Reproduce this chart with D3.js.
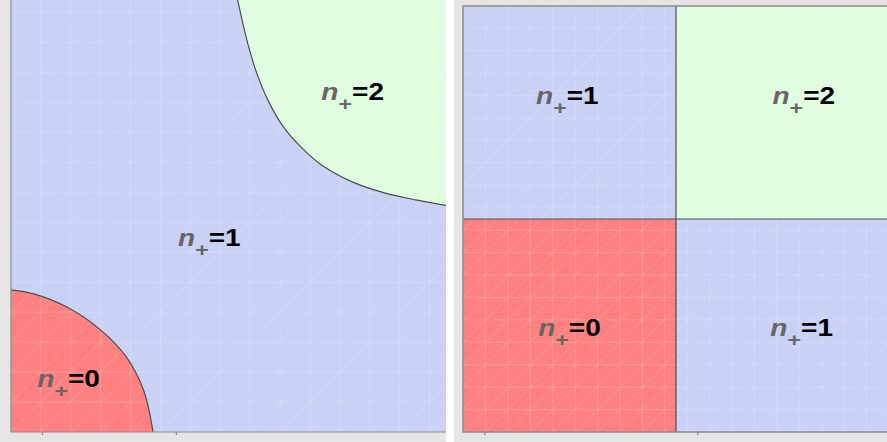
<!DOCTYPE html>
<html>
<head>
<meta charset="utf-8">
<script src="https://cdn.jsdelivr.net/npm/d3@7"></script>
<style>
  body { margin: 0; background: #fff; }
  svg { display: block; }
  .lbl { font-family: "Liberation Sans", Arial, sans-serif; font-weight: bold; font-size: 23px; }
</style>
</head>
<body>
<svg id="chart" width="887" height="442"></svg>
<script>
// left panel: smooth boundaries (data units)
const lowBoundary = [[-0.23, 0.83], [-0.06, 0.80], [0.19, 0.70], [0.44, 0.53], [0.63, 0.33], [0.76, 0.08], [0.83, -0.23]];
const highBoundary = [[1.46, 3.00], [1.50, 2.82], [1.55, 2.62], [1.61, 2.43], [1.69, 2.24], [1.80, 2.05], [1.95, 1.88],
    [2.09, 1.76], [2.33, 1.63], [2.57, 1.55], [2.80, 1.50], [3.02, 1.46]];
const leftCounts = [2, 1, 0];
const leftLabelX = [2.32, 1.25, 0.20];
const leftLabelY = [2.31, 1.22, 0.17];
const leftTicks = [0, 1];

// right panel: quadrants split at zero
const rightSplit = 0;
const rightCounts = [1, 2, 0, 1];
const rightLabelX = [-0.51, 0.60, -0.50, 0.59];
const rightLabelY = [0.58, 0.58, -0.51, -0.51];
const rightTicks = [-0.9, 0.1];

const colors = {0: "#ff8080", 1: "#c9d1f5", 2: "#e0fde0"};

const svg = d3.select("#chart");
svg.append("rect").attr("width", 887).attr("height", 442).attr("fill", "#e5e5e5");
svg.append("rect").attr("x", 446).attr("width", 8).attr("height", 442).attr("fill", "#fff");

function grid(g, x, y, stepX, stepY) {
    const [x0, x1] = x.domain(), [y0, y1] = y.domain();
    const xs = d3.range(x0, x1 + 1e-9, stepX);
    const ys = d3.range(y0, y1 + 1e-9, stepY);
    const gg = g.append("g").attr("stroke", "#fff").attr("stroke-opacity", 0.18).attr("stroke-width", 1);
    xs.forEach(v => gg.append("line").attr("x1", x(v)).attr("x2", x(v)).attr("y1", y(y0)).attr("y2", y(y1)));
    ys.forEach(v => gg.append("line").attr("y1", y(v)).attr("y2", y(v)).attr("x1", x(x0)).attr("x2", x(x1)));
    // triangulation diagonals
    for (let i = -ys.length; i < xs.length; i++) {
        gg.append("line")
            .attr("x1", x(x0 + i * stepX)).attr("y1", y(y0))
            .attr("x2", x(x0 + (i + ys.length) * stepX)).attr("y2", y(y0 + ys.length * stepY));
    }
}

function label(g, x, y, n, cx, cy) {
    const t = g.append("text").attr("class", "lbl")
        .attr("transform", `translate(${x(cx)},${y(cy)}) scale(1.22,1)`)
        .attr("dy", "0.36em").attr("text-anchor", "middle");
    t.append("tspan").text("n").attr("font-style", "italic").attr("fill", "#666");
    t.append("tspan").text("+").attr("fill", "#666").attr("font-size", "19px").attr("dy", "10");
    t.append("tspan").text("=" + n).attr("fill", "#000").attr("dy", "-10");
}

// ---------- left panel ----------
const xL = d3.scaleLinear().domain([-0.23, 3.02]).range([11, 446.5]);
const yL = d3.scaleLinear().domain([-0.23, 3.0]).range([432, -1]);
svg.append("clipPath").attr("id", "clipL").append("rect")
    .attr("x", 11).attr("y", 0).attr("width", 435).attr("height", 432);
const gL = svg.append("g").attr("clip-path", "url(#clipL)");
const [lx0, lx1] = xL.domain(), [ly0, ly1] = yL.domain();
gL.append("rect").attr("x", xL(lx0)).attr("y", yL(ly1))
    .attr("width", xL(lx1) - xL(lx0)).attr("height", yL(ly0) - yL(ly1)).attr("fill", colors[1]);
const lineL = d3.line().x(d => xL(d[0])).y(d => yL(d[1])).curve(d3.curveCatmullRom);
gL.append("path").attr("d", lineL(lowBoundary) + `L${xL(lx0 - 1)},${yL(ly0 - 1)}Z`).attr("fill", colors[0]);
gL.append("path").attr("d", lineL(highBoundary) + `L${xL(lx1 + 1)},${yL(ly1 + 1)}Z`).attr("fill", colors[2]);
grid(gL, xL, yL, 0.2231, 0.2236);
gL.append("path").attr("d", lineL(lowBoundary)).attr("fill", "none").attr("stroke", "#4d4d4d").attr("stroke-width", 1.2);
gL.append("path").attr("d", lineL(highBoundary)).attr("fill", "none").attr("stroke", "#4d4d4d").attr("stroke-width", 1.2);
leftCounts.forEach((n, i) => label(gL, xL, yL, n, leftLabelX[i], leftLabelY[i]));
svg.append("g").attr("transform", `translate(0,${yL(ly0)})`)
    .call(d3.axisBottom(xL).tickValues(leftTicks).tickSize(3).tickFormat(""))
    .call(g => g.select(".domain").remove())
    .attr("color", "#777");
svg.append("path").attr("d", `M${xL(lx0)},0V${yL(ly0)}H446`)
    .attr("fill", "none").attr("stroke", "#8a8a8a").attr("stroke-width", 1.2);

// ---------- right panel ----------
const xR = d3.scaleLinear().domain([-1, 1]).range([463, 889]);
const yR = d3.scaleLinear().domain([-1, 1]).range([432, 6]);
svg.append("clipPath").attr("id", "clipR").append("rect")
    .attr("x", 463).attr("y", 6).attr("width", 426).attr("height", 426);
const gR = svg.append("g").attr("clip-path", "url(#clipR)");
const quads = [
    {x0: -1, x1: rightSplit, y0: rightSplit, y1: 1, n: 1},
    {x0: rightSplit, x1: 1, y0: rightSplit, y1: 1, n: 2},
    {x0: -1, x1: rightSplit, y0: -1, y1: rightSplit, n: 0},
    {x0: rightSplit, x1: 1, y0: -1, y1: rightSplit, n: 1}
];
gR.selectAll("rect.q").data(quads).enter().append("rect").attr("class", "q")
    .attr("x", d => xR(d.x0)).attr("y", d => yR(d.y1))
    .attr("width", d => xR(d.x1) - xR(d.x0)).attr("height", d => yR(d.y0) - yR(d.y1))
    .attr("fill", d => colors[d.n]);
grid(gR, xR, yR, 2 / 19, 2 / 19);
gR.append("line").attr("x1", xR(rightSplit)).attr("x2", xR(rightSplit)).attr("y1", yR(-1)).attr("y2", yR(1))
    .attr("stroke", "#4d4d4d").attr("stroke-width", 1.2);
gR.append("line").attr("y1", yR(rightSplit)).attr("y2", yR(rightSplit)).attr("x1", xR(-1)).attr("x2", xR(1))
    .attr("stroke", "#4d4d4d").attr("stroke-width", 1.2);
rightCounts.forEach((n, i) => label(gR, xR, yR, n, rightLabelX[i], rightLabelY[i]));
svg.append("g").attr("transform", `translate(0,${yR(-1)})`)
    .call(d3.axisBottom(xR).tickValues(rightTicks).tickSize(3).tickFormat(""))
    .call(g => g.select(".domain").remove())
    .attr("color", "#777");
svg.append("rect").attr("x", xR(-1)).attr("y", yR(1)).attr("width", xR(1) - xR(-1)).attr("height", yR(-1) - yR(1))
    .attr("fill", "none").attr("stroke", "#8a8a8a").attr("stroke-width", 1.5);
</script>
</body>
</html>
